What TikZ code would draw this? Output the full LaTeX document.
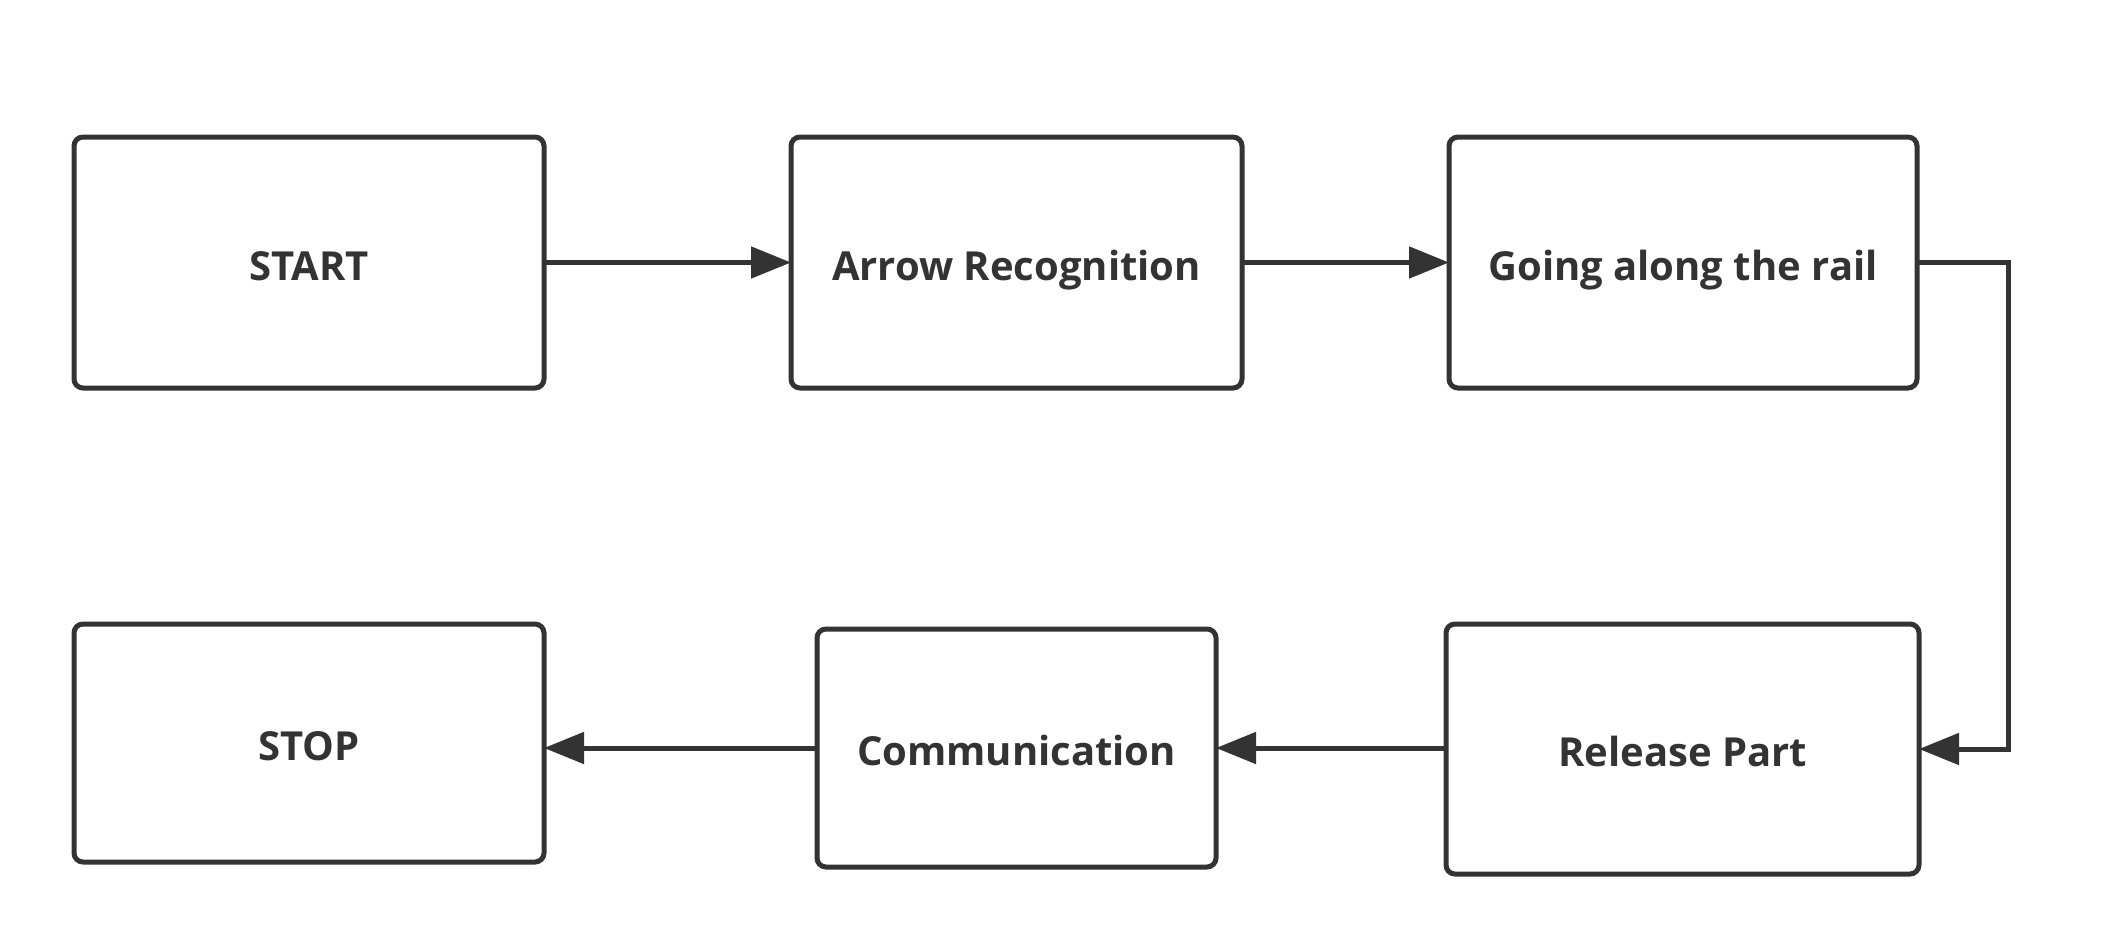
\documentclass[tikz,border=0pt]{standalone}
\usepackage{fontspec}
\setmainfont{Open Sans}
\usetikzlibrary{arrows.meta}
\definecolor{ink}{HTML}{333333}
\begin{document}
\begin{tikzpicture}[x=1pt,y=-1pt,
  box/.style={draw=ink, line width=5pt, rounded corners=9pt, inner sep=0pt, outer sep=0pt,
    text=ink, text height=45pt, text depth=10pt,
    font=\fontsize{40}{48}\selectfont\bfseries},
  conn/.style={draw=ink, line width=5pt, -{Triangle[length=40pt,width=31pt]}}]
\useasboundingbox[fill=white] (0,0) rectangle (2121,948);
\node[box, minimum width=470pt, minimum height=251pt] (start) at (309,262.5) {START};
\node[box, minimum width=451pt, minimum height=251pt] (arr) at (1016.5,262.5) {Arrow Recognition};
\node[box, minimum width=468pt, minimum height=251pt] (rail) at (1683,262.5) {Going along the rail};
\node[box, minimum width=470pt, minimum height=238pt] (stop) at (309,743) {STOP};
\node[box, minimum width=399pt, minimum height=238pt] (comm) at (1016.5,748) {Communication};
\node[box, minimum width=473pt, minimum height=250pt] (rel) at (1682.5,749) {Release Part};
\coordinate (turn) at (2008,0);
\draw[conn] (start.east) -- (arr.west);
\draw[conn] (arr.east) -- (rail.west);
\draw[conn, line join=miter] (rail.east) -- (rail.east -| turn) -- (rel.east -| turn) -- (rel.east);
\draw[conn] (rel.west |- comm.east) -- (comm.east);
\draw[conn] (comm.west) -- (comm.west -| stop.east);
\end{tikzpicture}
\end{document}
